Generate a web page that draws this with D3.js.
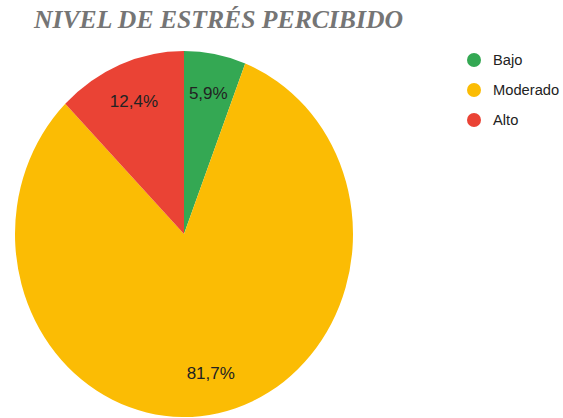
<!DOCTYPE html>
<html lang="es">
<head>
  <meta charset="UTF-8">
  <style>
    body {
      margin: 0;
      overflow: hidden;
      background: #fff;
    }

    svg {
      display: block;
    }

    .title {
      font-family: "Liberation Serif", "DejaVu Serif", serif;
      font-weight: bold;
      font-style: italic;
      font-size: 25px;
      fill: #757575;
    }

    .slice-label {
      font-family: "Liberation Sans", Arial, sans-serif;
      font-size: 17px;
      fill: #222;
      text-anchor: middle;
      dominant-baseline: central;
    }

    .legend-label {
      font-family: "Liberation Sans", Arial, sans-serif;
      font-size: 14.7px;
      fill: #222;
      dominant-baseline: central;
    }
  </style>
  <script src="https://d3js.org/d3.v7.min.js"></script>
</head>
<body>

<svg id="chart"></svg>

<script>
  const categories = ["Bajo", "Moderado", "Alto"];
  const values = [5.9, 81.7, 12.4];
  const colors = ["#34a853", "#fbbc04", "#ea4335"];

  const width = 563, height = 418;
  // the reference pie is slightly taller than wide
  const cx = 184, cy = 234, rx = 169, ry = 183;

  const svg = d3.select("#chart")
    .attr("width", width)
    .attr("height", height);

  svg.append("text")
    .attr("class", "title")
    .attr("x", 34)
    .attr("y", 28)
    .attr("textLength", 369)
    .attr("lengthAdjust", "spacingAndGlyphs")
    .text("NIVEL DE ESTRÉS PERCIBIDO");

  const data = categories.map((c, i) => ({ name: c, value: values[i], color: colors[i] }));

  const pie = d3.pie().sort(null).value(d => d.value);
  const arcs = pie(data);

  const arc = d3.arc().innerRadius(0).outerRadius(ry);

  const g = svg.append("g")
    .attr("transform", `translate(${cx},${cy}) scale(${rx / ry},1)`);

  g.selectAll("path")
    .data(arcs)
    .join("path")
    .attr("d", arc)
    .attr("fill", d => d.data.color);

  // labels, placed at ~78% of the radius along each slice's mid angle
  const fmt = v => d3.format(".1f")(v).replace(".", ",") + "%";
  svg.selectAll(".slice-label")
    .data(arcs)
    .join("text")
    .attr("class", "slice-label")
    .attr("x", d => cx + Math.sin((d.startAngle + d.endAngle) / 2) * rx * 0.78)
    .attr("y", d => cy - Math.cos((d.startAngle + d.endAngle) / 2) * ry * 0.78)
    .text(d => fmt(d.data.value));

  // legend
  const legend = svg.append("g");
  const legendY = d3.scalePoint().domain(categories).range([60, 120]);

  legend.selectAll("circle")
    .data(data)
    .join("circle")
    .attr("cx", 474)
    .attr("cy", d => legendY(d.name))
    .attr("r", 7)
    .attr("fill", d => d.color);

  legend.selectAll("text")
    .data(data)
    .join("text")
    .attr("class", "legend-label")
    .attr("x", 493)
    .attr("y", d => legendY(d.name))
    .text(d => d.name);
</script>

</body>
</html>
